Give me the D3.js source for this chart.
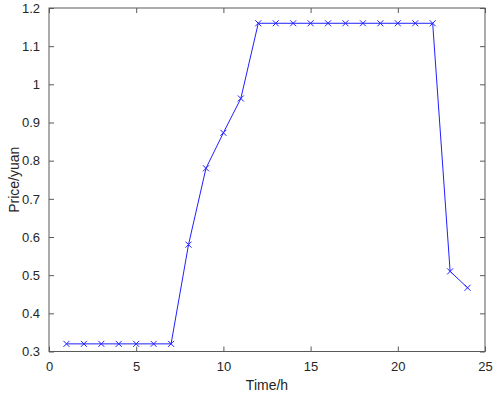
<!DOCTYPE html>
<html><head><meta charset="utf-8">
<script src="https://cdnjs.cloudflare.com/ajax/libs/d3/7.8.5/d3.min.js"></script>
<style>body{margin:0;background:#fff}svg{display:block}text{font-family:"Liberation Sans",Arial,sans-serif}</style>
</head><body><svg id="c" width="498" height="396"></svg>
<script>
const hours = [1,2,3,4,5,6,7,8,9,10,11,12,13,14,15,16,17,18,19,20,21,22,23,24];
const prices = [0.32,0.32,0.32,0.32,0.32,0.32,0.32,0.58,0.78,0.873,0.963,1.16,1.16,1.16,1.16,1.16,1.16,1.16,1.16,1.16,1.16,1.16,0.51,0.467];
const xTicks = [0,5,10,15,20,25];
const yTicks = [0.3,0.4,0.5,0.6,0.7,0.8,0.9,1,1.1,1.2];

const L=49, R=485, T=8, B=351.5;
const svg=d3.select("#c");
const x=d3.scaleLinear().domain([0,25]).range([L,R]);
const y=d3.scaleLinear().domain([0.3,1.2]).range([B,T]);
const axCol="#595959", txtCol="#262626";

function style(g){
  g.select(".domain").remove();
  g.selectAll(".tick line").attr("stroke",axCol);
  g.selectAll(".tick text").attr("fill",txtCol).style("font-size","13px");
}
svg.append("g").attr("transform",`translate(0,${B})`)
  .call(d3.axisBottom(x).tickValues(xTicks).tickSizeInner(-5).tickSizeOuter(0).tickPadding(10).tickFormat(d3.format("d"))).call(style);
svg.append("g").attr("transform",`translate(0,${T})`)
  .call(d3.axisTop(x).tickValues(xTicks).tickSizeInner(-5).tickSizeOuter(0).tickFormat("")).call(style);
svg.append("g").attr("transform",`translate(${L},0)`)
  .call(d3.axisLeft(y).tickValues(yTicks).tickSizeInner(-5).tickSizeOuter(0).tickPadding(9).tickFormat(d=>String(+d.toFixed(1)))).call(style);
svg.append("g").attr("transform",`translate(${R},0)`)
  .call(d3.axisRight(y).tickValues(yTicks).tickSizeInner(-5).tickSizeOuter(0).tickFormat("")).call(style);
svg.append("rect").attr("x",L).attr("y",T).attr("width",R-L).attr("height",B-T)
  .attr("fill","none").attr("stroke",axCol).attr("stroke-width",1);

const line=d3.line().x((d,i)=>x(hours[i])).y(d=>y(d));
svg.append("path").datum(prices).attr("d",line).attr("fill","none").attr("stroke","#2020ff").attr("stroke-width",1);
const s=3;
svg.append("g").selectAll("path.m").data(prices).join("path")
  .attr("d",(d,i)=>{const cx=x(hours[i]),cy=y(d);return `M${cx-s},${cy-s}L${cx+s},${cy+s}M${cx-s},${cy+s}L${cx+s},${cy-s}`;})
  .attr("stroke","#2020ff").attr("stroke-width",1).attr("fill","none");

svg.append("text").attr("x",(L+R)/2).attr("y",390).attr("text-anchor","middle")
  .attr("fill",txtCol).style("font-size","14px").text("Time/h");
svg.append("text").attr("transform",`translate(19,${(T+B)/2}) rotate(-90)`).attr("text-anchor","middle")
  .attr("fill",txtCol).style("font-size","14px").text("Price/yuan");
</script></body></html>
